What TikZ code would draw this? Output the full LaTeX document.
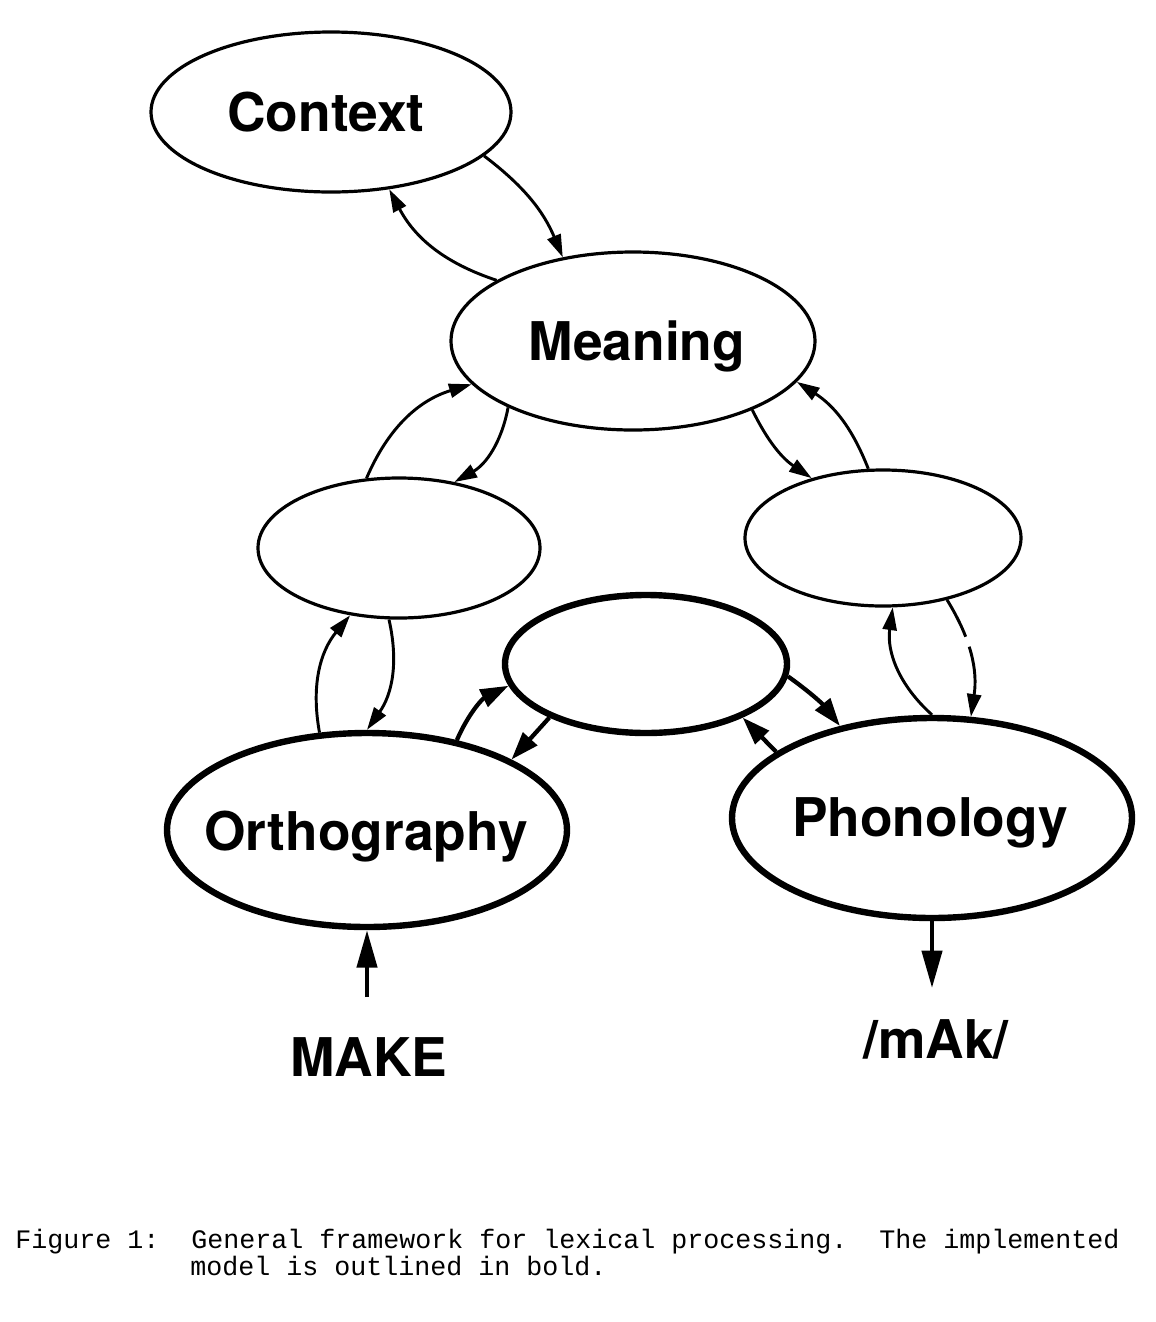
\documentclass[tikz,border=0pt]{standalone}
\usepackage{fontspec}
\setmainfont{TeX Gyre Heros}
\newfontfamily\capfont{Liberation Mono}
\usetikzlibrary{arrows.meta,shapes.geometric}
\begin{document}
\begin{tikzpicture}[x=0.75pt,y=0.75pt,
  wordtxt/.style={font=\bfseries\fontsize{40}{40}\selectfont, text height=29pt, text depth=0pt, inner sep=0pt},
  thinell/.style 2 args={draw, ellipse, line width=2.4pt, inner sep=0pt,
     minimum width={#1*1.5pt}, minimum height={#2*1.5pt}},
  boldell/.style 2 args={thinell={#1}{#2}, line width=4.8pt},
  thinarr/.style={line width=2.2pt, -{Triangle[length=17pt,width=10.5pt]}},
  boldarr/.style={line width=3.2pt, -{Triangle[length=21pt,width=14pt]}},
  ioarr/.style={line width=3.2pt, -{Triangle[length=28pt,width=15pt]}},
  captxt/.style={font=\capfont\fontsize{20}{20}\selectfont, inner sep=0pt, anchor=base west}]
\fill[white] (0,0) rectangle (1156,-1322);
\useasboundingbox (0,0) rectangle (1156,-1322);

\node[thinell={180}{80}] (ctx) at (331,-112) {};
\node[thinell={182}{89}] (mng) at (633,-341) {};
\node[thinell={141}{70}] (lft) at (399,-548) {};
\node[thinell={138}{68}] (rgt) at (883,-538) {};
\node[boldell={141}{69}] (mid) at (646,-664) {};
\node[boldell={200}{97}] (orth) at (367,-830) {};
\node[boldell={200}{100}] (phon) at (932,-818) {};

\node[wordtxt] (ctxt) at (326,-112) {Context};
\node[wordtxt] (mngt) at (637,-341) {Meaning};
\node[wordtxt] (ortht) at (366,-831) {Orthography};
\node[wordtxt] (phont) at (930,-817) {Phonology};
\node[wordtxt] (make) at (369,-1057) {MAKE};
\node[wordtxt] (mak) at (936,-1039) {/mAk/};

\draw[thinarr] (ctx.-16.8) to[bend left=15] (mng.130.1);
\draw[thinarr] (mng.156.9) to[bend left=22] (ctx.-53.2);
\draw[thinarr] (lft.115.9) to[bend left=25] (mng.195.9);
\draw[thinarr] (mng.208.5) to[bend left=25] (lft.50);
\draw[thinarr] (mng.-30.3) to[bend right=15] (rgt.140.4);
\draw[thinarr] (rgt.102.9) to[bend right=18] (mng.-14.4);
\draw[thinarr] (orth.116.3) to[bend left=25] (lft.-126.5);
\draw[thinarr] (lft.-98.7) to[bend left=24] (orth.90);
\draw[boldarr] (orth.45) to[bend left=20] (mid.189.7);
\draw[boldarr] (mid.-151.1) -- (orth.26.7);
\draw[boldarr] (mid.-5.7) to[bend left=8] (phon.135.9);
\draw[boldarr] (phon.157.9) -- (mid.-29.9);
\draw[thinarr] (phon.90) to[bend left=28] (rgt.-82);
\draw[thinarr, dash pattern=on 31pt off 8pt on 300pt] (rgt.-44.1) to[bend left=20] (phon.69.2);

\coordinate (mktail) at (367,-997);
\coordinate (maktip) at (932,-988);
\draw[ioarr] (mktail) -- (orth.south);
\draw[ioarr] (phon.south) -- (maktip);

\node[captxt] (cap1) at (15,-1248) {Figure 1:\ \ General framework for lexical processing.\ \ The implemented};
\node[captxt] (cap2) at (190,-1275) {model is outlined in bold.};
\end{tikzpicture}
\end{document}
